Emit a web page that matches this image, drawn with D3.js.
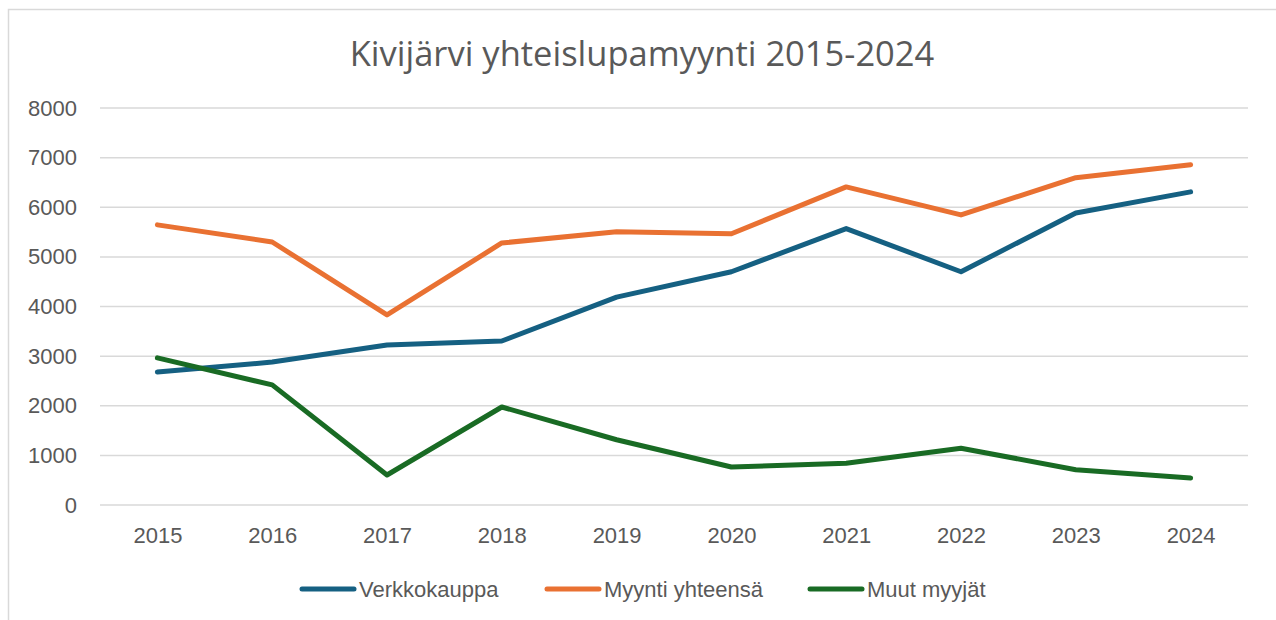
<!DOCTYPE html>
<html>
<head>
<meta charset="utf-8">
<script src="https://cdn.jsdelivr.net/npm/d3@7"></script>
<style>
  body { margin: 0; background: #fff; }
  svg { display: block; font-family: "Liberation Sans", Arial, sans-serif; }
</style>
</head>
<body>
<div id="chart"></div>
<script>
const years = ["2015", "2016", "2017", "2018", "2019", "2020", "2021", "2022", "2023", "2024"]
const verkkokauppa = [2680, 2880, 3225, 3305, 4190, 4700, 5570, 4700, 5885, 6310]
const myyntiYhteensa = [5645, 5300, 3830, 5280, 5505, 5465, 6410, 5845, 6595, 6855]
const muutMyyjat = [2965, 2420, 605, 1975, 1315, 765, 840, 1145, 710, 545]
const yTicks = [0, 1000, 2000, 3000, 4000, 5000, 6000, 7000, 8000]

const seriesList = [
    { name: "Verkkokauppa", values: verkkokauppa, color: "#156082" },
    { name: "Myynti yhteensä", values: myyntiYhteensa, color: "#e97132" },
    { name: "Muut myyjät", values: muutMyyjat, color: "#196b24" }
]

const width = 1276, height = 620
const margin = { top: 108, right: 28, bottom: 115, left: 100 }
const textColor = "#595959"

const svg = d3.select("#chart").append("svg")
    .attr("width", width)
    .attr("height", height)

// chart frame, runs off the right and bottom edge
svg.append("rect")
    .attr("x", 8.5).attr("y", 9.5)
    .attr("width", width + 20).attr("height", height + 20)
    .attr("fill", "#fff")
    .attr("stroke", "#d9d9d9")
    .attr("stroke-width", 1.5)

svg.append("text")
    .attr("x", 642).attr("y", 66)
    .attr("text-anchor", "middle")
    .attr("fill", textColor)
    .style("font-family", "'Open Sans', sans-serif")
    .style("font-size", "34.5px")
    .text("Kivijärvi yhteislupamyynti 2015-2024")

const x = d3.scalePoint()
    .domain(years)
    .range([margin.left, width - margin.right])
    .padding(0.5)

const y = d3.scaleLinear()
    .domain([0, 8000])
    .range([505, margin.top])

// gridlines
svg.append("g")
    .selectAll("line")
    .data(yTicks)
    .enter().append("line")
    .attr("x1", margin.left)
    .attr("x2", width - margin.right)
    .attr("y1", d => y(d))
    .attr("y2", d => y(d))
    .attr("stroke", "#d9d9d9")
    .attr("stroke-width", 1.5)

// y-axis
const yAxis = svg.append("g")
    .attr("transform", `translate(${margin.left},0)`)
    .call(d3.axisLeft(y).tickValues(yTicks).tickFormat(d3.format("d")).tickSize(0).tickPadding(23))
yAxis.select(".domain").remove()
yAxis.selectAll("text")
    .attr("fill", textColor)
    .style("font-size", "22px")
    .style("font-family", "inherit")

// x-axis
const xAxis = svg.append("g")
    .attr("transform", "translate(0,505)")
    .call(d3.axisBottom(x).tickSize(0).tickPadding(22))
xAxis.select(".domain").remove()
xAxis.selectAll("text")
    .attr("fill", textColor)
    .style("font-size", "22px")
    .style("font-family", "inherit")

const line = d3.line()
    .x((d, i) => x(years[i]))
    .y(d => y(d))

svg.selectAll(".series")
    .data(seriesList)
    .enter().append("path")
    .attr("class", "series")
    .attr("d", d => line(d.values))
    .attr("fill", "none")
    .attr("stroke", d => d.color)
    .attr("stroke-width", 5)
    .attr("stroke-linecap", "round")
    .attr("stroke-linejoin", "round")

// legend
const legendX = [300, 545, 808]
const legend = svg.selectAll(".legend")
    .data(seriesList)
    .enter().append("g")
    .attr("class", "legend")
    .attr("transform", (d, i) => `translate(${legendX[i]},589)`)

legend.append("line")
    .attr("x1", 2).attr("x2", 54)
    .attr("stroke", d => d.color)
    .attr("stroke-width", 5)
    .attr("stroke-linecap", "round")

legend.append("text")
    .attr("x", 59)
    .attr("dy", "0.35em")
    .attr("fill", textColor)
    .style("font-size", "22px")
    .text(d => d.name)
</script>
</body>
</html>
